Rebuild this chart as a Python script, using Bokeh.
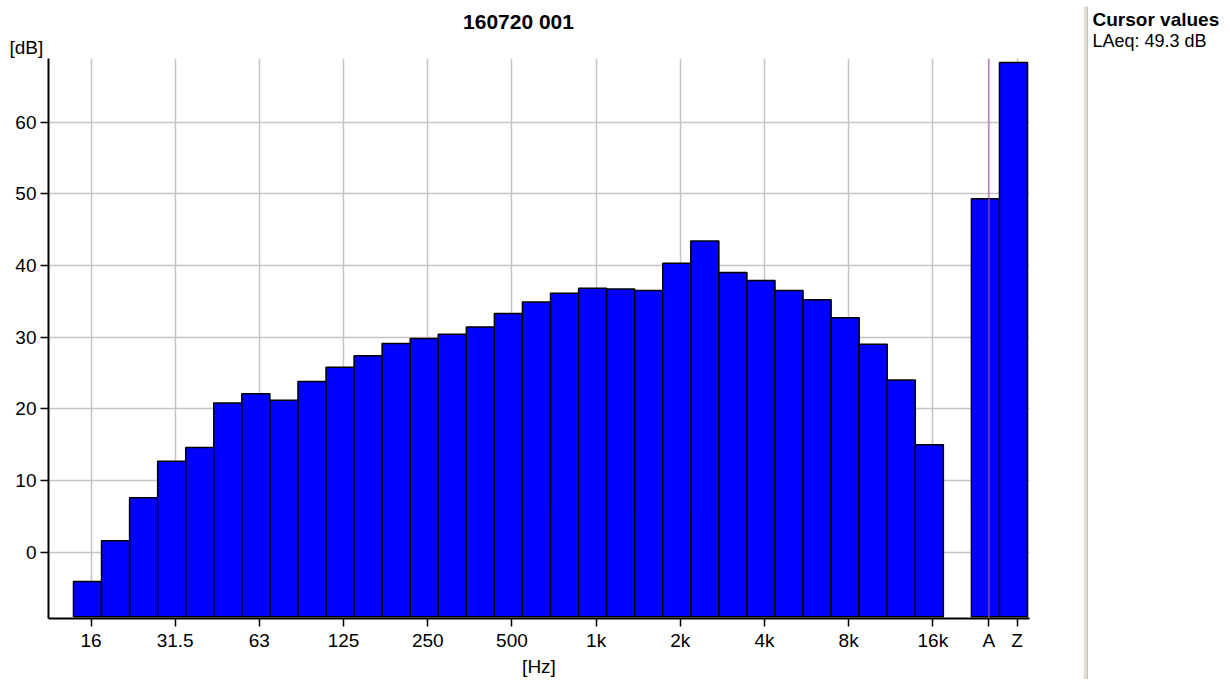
from bokeh.plotting import figure
from bokeh.layouts import row, column
from bokeh.models import FixedTicker, Label, Span, Range1d
from bokeh.embed import file_html
from bokeh.resources import INLINE

# ---------------- data ----------------
title_text = "160720 001"
band_labels = ["16", "20", "25", "31.5", "40", "50", "63", "80", "100", "125",
               "160", "200", "250", "315", "400", "500", "630", "800", "1k",
               "1.25k", "1.6k", "2k", "2.5k", "3.15k", "4k", "5k", "6.3k",
               "8k", "10k", "12.5k", "16k"]
band_values = [-4.1, 1.6, 7.6, 12.7, 14.6, 20.8, 22.1, 21.2, 23.8, 25.8,
               27.4, 29.1, 29.8, 30.4, 31.4, 33.3, 34.9, 36.1, 36.8,
               36.7, 36.5, 40.3, 43.4, 39.0, 37.9, 36.5, 35.2,
               32.7, 29.0, 24.0, 15.0]
total_labels = ["A", "Z"]
total_values = [49.3, 68.3]
tick_bands = ["16", "31.5", "63", "125", "250", "500", "1k", "2k", "4k", "8k", "16k"]
y_ticks = [0, 10, 20, 30, 40, 50, 60]
y_unit = "[dB]"
x_unit = "[Hz]"
cursor_title = "Cursor values"
cursor_text = "LAeq: 49.3 dB"
cursor_band = "A"

# ---------------- helpers ----------------
band_x = list(range(len(band_labels)))
total_x = [len(band_labels) + 1 + i for i in range(len(total_labels))]
base = -9.0
off = 0.125

tick_pos = [band_labels.index(b) + off for b in tick_bands] + [x + off for x in total_x]
tick_txt = tick_bands + total_labels

FONT = "Liberation Sans"
LEFT_W = 1083
SIDE_W = 146
HEAD_H = 58
MAIN_H = 621


def no_align(fig):
    if "frame_align" in fig.properties():
        fig.frame_align = False


def blank(fig):
    fig.outline_line_color = None
    fig.background_fill_color = "white"
    fig.border_fill_color = "white"


# ---------------- header (title + y unit) ----------------
h = figure(width=LEFT_W, height=HEAD_H, x_range=Range1d(0, LEFT_W), y_range=Range1d(0, HEAD_H),
           output_backend="svg", toolbar_location=None, title=None,
           x_axis_type=None, y_axis_type=None, min_border=0)
blank(h)
h.grid.visible = False
no_align(h)
h.add_layout(Label(x=518, y=HEAD_H - 20.5, text=title_text, text_align="center",
                   text_baseline="middle", text_font=FONT, text_font_style="bold",
                   text_font_size="21px", text_color="black"))
h.add_layout(Label(x=9, y=HEAD_H - 47, text=y_unit, text_align="left",
                   text_baseline="middle", text_font=FONT,
                   text_font_size="19px", text_color="black"))

# ---------------- main chart ----------------
p = figure(width=LEFT_W, height=MAIN_H,
           x_range=Range1d(-1.39, 33.57), y_range=Range1d(-9.25, 68.86),
           output_backend="svg", toolbar_location=None, title=None,
           min_border_left=48, min_border_right=54,
           min_border_top=0, min_border_bottom=61)
blank(p)
no_align(p)

p.vbar(x=band_x, top=band_values, bottom=base, width=1.0,
       fill_color="#0000ff", line_color="black", line_width=1.5)
p.vbar(x=total_x, top=total_values, bottom=base, width=1.0,
       fill_color="#0000ff", line_color="black", line_width=1.5)

xt = FixedTicker(ticks=tick_pos)
yt = FixedTicker(ticks=y_ticks)
p.xaxis.ticker = xt
p.yaxis.ticker = yt
p.xgrid.ticker = xt
p.ygrid.ticker = yt
p.xaxis.major_label_overrides = {t: l for t, l in zip(tick_pos, tick_txt)}

for ax in (p.xaxis, p.yaxis):
    ax.axis_line_color = "black"
    ax.axis_line_width = 2
    ax.major_tick_line_color = "black"
    ax.major_tick_line_width = 1.5
    ax.major_tick_in = 0
    ax.major_tick_out = 8
    ax.minor_tick_line_color = None
    ax.major_label_text_font = FONT
    ax.major_label_text_font_size = "19px"
    ax.major_label_text_color = "black"
p.xaxis.major_label_standoff = 3
p.yaxis.major_label_standoff = 4
p.xaxis.axis_label = x_unit
p.xaxis.axis_label_standoff = 2
p.xaxis.axis_label_text_font = FONT
p.xaxis.axis_label_text_font_size = "19px"
p.xaxis.axis_label_text_font_style = "normal"
p.xaxis.axis_label_text_color = "black"

for g in (p.xgrid, p.ygrid):
    g.grid_line_color = "#c4c4c4"
    g.grid_line_width = 1.5

cx = total_x[total_labels.index(cursor_band)] + off
p.add_layout(Span(location=cx, dimension="height", line_color="#b060b0", line_width=1))

# ---------------- side panel ----------------
S_H = HEAD_H + MAIN_H
s = figure(width=SIDE_W, height=S_H, x_range=Range1d(0, SIDE_W), y_range=Range1d(0, S_H),
           output_backend="svg", toolbar_location=None, title=None,
           x_axis_type=None, y_axis_type=None, min_border=0)
blank(s)
s.grid.visible = False
no_align(s)
s.quad(left=[0], right=[3], bottom=[0], top=[S_H - 6], fill_color="#e4e0d2", line_color=None)
s.quad(left=[3], right=[4.5], bottom=[0], top=[S_H - 6], fill_color="#c8c4b4", line_color=None)
s.add_layout(Label(x=9, y=S_H - 19, text=cursor_title, text_align="left", text_baseline="middle",
                   text_font=FONT, text_font_style="bold", text_font_size="19px",
                   text_color="black"))
s.add_layout(Label(x=9, y=S_H - 40, text=cursor_text, text_align="left", text_baseline="middle",
                   text_font=FONT, text_font_size="18px", text_color="black"))

layout = row(column(h, p), s)
open("out.html", "w").write(file_html(layout, INLINE))
